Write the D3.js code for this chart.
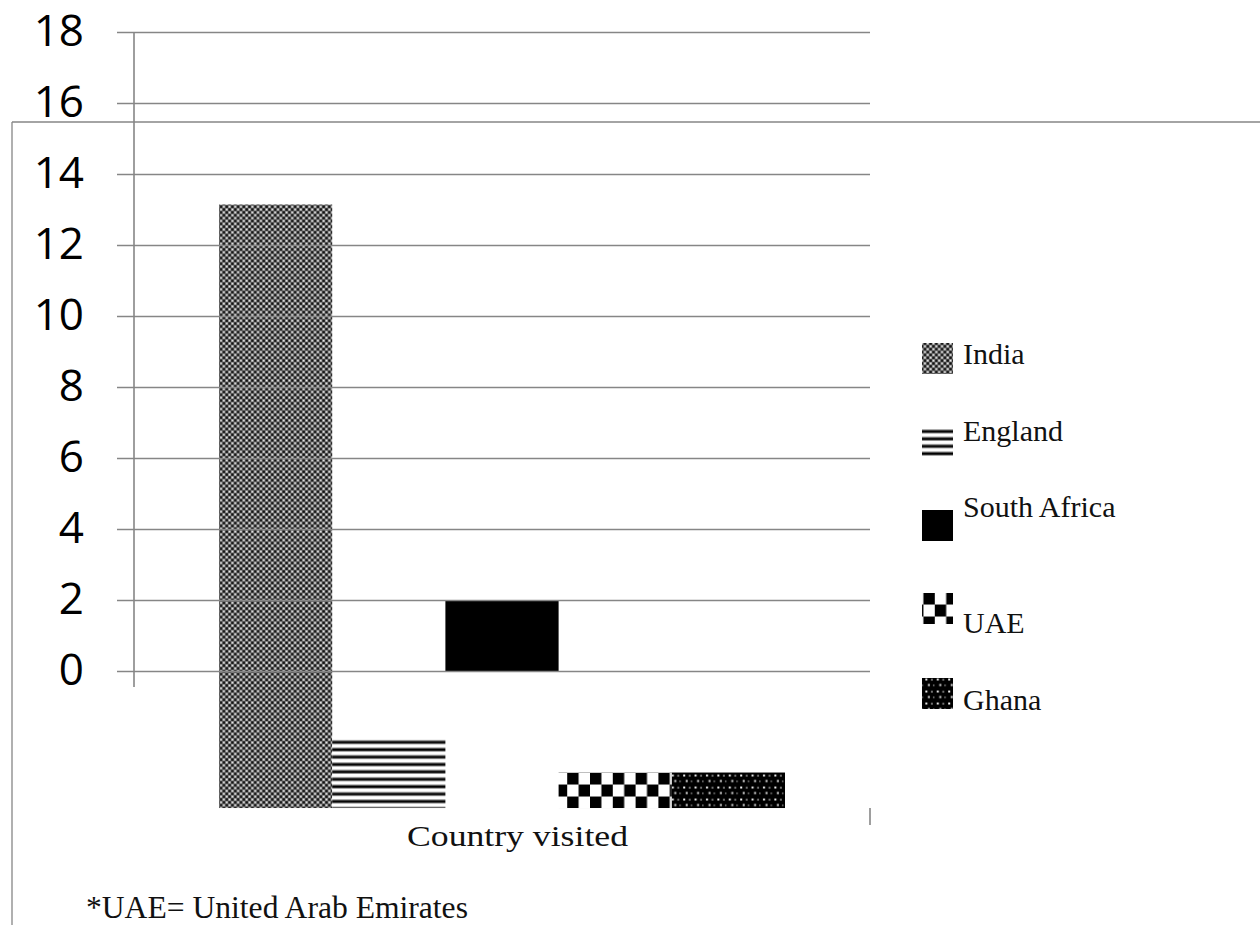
<!DOCTYPE html>
<html>
<head>
<meta charset="utf-8">
<script src="https://cdn.jsdelivr.net/npm/d3@7"></script>
<style>
  html, body { margin: 0; padding: 0; background: #fff; }
  svg { display: block; }
</style>
</head>
<body>
<svg id="chart" width="1260" height="925"></svg>
<script>
// ---- data ----
const category = ["Country visited"];
const series = ["India", "England", "South Africa", "UAE", "Ghana"];
const values = [17, 2, 2, 1, 1];
// apparent baseline (in axis units) each bar is drawn from in the picture
const barBase = [-3.86, -3.86, 0, -3.86, -3.86];
const yTicks = [0, 2, 4, 6, 8, 10, 12, 14, 16, 18];
const footnote = "*UAE= United Arab Emirates";

// ---- layout ----
const svg = d3.select("#chart");
const plotLeft = 134, plotRight = 870, plotTop = 32, plotBottom = 671;
const grey = "#868686";

const y = d3.scaleLinear().domain([0, 18]).range([plotBottom, plotTop]);
const x0 = d3.scaleBand().domain(category).range([plotLeft, plotRight]);
const x1 = d3.scaleBand().domain(series).range([85, x0.bandwidth() - 85]);

// ---- patterns ----
const defs = svg.append("defs");
function pat(id, w, h, build, oy) {
  const p = defs.append("pattern").attr("id", id)
    .attr("patternUnits", "userSpaceOnUse")
    .attr("width", w).attr("height", h)
    .attr("x", 0).attr("y", oy || 0);
  build(p);
  return p;
}
pat("p-india", 5.7, 5.7, p => {
  p.append("rect").attr("width", 5.7).attr("height", 5.7).attr("fill", "#7a7a7a");
  p.append("rect").attr("x", 0.3).attr("y", 0.3).attr("width", 2.4).attr("height", 2.4).attr("fill", "#0d0d0d");
  p.append("rect").attr("x", 3.15).attr("y", 3.15).attr("width", 2.4).attr("height", 2.4).attr("fill", "#0d0d0d");
  p.append("rect").attr("x", 3.5).attr("y", 0.7).attr("width", 1.7).attr("height", 1.7).attr("fill", "#f2f2f2");
  p.append("rect").attr("x", 0.7).attr("y", 3.5).attr("width", 1.7).attr("height", 1.7).attr("fill", "#f2f2f2");
});
pat("p-england", 8, 7.4, p => {
  p.append("rect").attr("width", 8).attr("height", 7.4).attr("fill", "#fff");
  p.append("rect").attr("y", 3.0).attr("width", 8).attr("height", 1).attr("fill", "#999");
  p.append("rect").attr("y", 4.0).attr("width", 8).attr("height", 2.4).attr("fill", "#000");
  p.append("rect").attr("y", 6.4).attr("width", 8).attr("height", 1).attr("fill", "#999");
}, y(2) + (y(barBase[1]) - y(0)));
pat("p-uae", 22.8, 24, p => {
  p.append("rect").attr("width", 22.8).attr("height", 24).attr("fill", "#fff");
  p.append("rect").attr("x", 0).attr("y", 0).attr("width", 11.4).attr("height", 12).attr("fill", "#000");
  p.append("rect").attr("x", 11.4).attr("y", 12).attr("width", 11.4).attr("height", 12).attr("fill", "#000");
}, y(1) + (y(barBase[3]) - y(0)));
pat("p-ghana", 11.4, 12, p => {
  p.append("rect").attr("width", 11.4).attr("height", 12).attr("fill", "#000");
  p.append("rect").attr("x", 2).attr("y", 2).attr("width", 2).attr("height", 2).attr("fill", "#eee");
  p.append("rect").attr("x", 7.5).attr("y", 2.5).attr("width", 2).attr("height", 1.5).attr("fill", "#999");
  p.append("rect").attr("x", 4.5).attr("y", 7.5).attr("width", 2).attr("height", 2).attr("fill", "#ddd");
  p.append("rect").attr("x", 9.5).attr("y", 8).attr("width", 1.5).attr("height", 1.5).attr("fill", "#888");
}, y(1) + (y(barBase[4]) - y(0)));
const fills = ["url(#p-india)", "url(#p-england)", "#000", "url(#p-uae)", "url(#p-ghana)"];

// ---- outer frame ----
svg.append("line").attr("x1", 12).attr("x2", 1260).attr("y1", 122).attr("y2", 122)
  .attr("stroke", grey).attr("stroke-width", 1.3);
svg.append("line").attr("x1", 12).attr("x2", 12).attr("y1", 122).attr("y2", 925)
  .attr("stroke", grey).attr("stroke-width", 1.3);

// ---- bars ----
const barData = series.map((s, i) => ({ s, v: values[i], b: barBase[i], f: fills[i] }));
const g = svg.append("g").attr("transform", `translate(${x0(category[0])},0)`);
g.selectAll("rect.bar").data(barData).join("rect")
  .attr("class", "bar")
  .attr("x", d => x1(d.s))
  .attr("width", x1.bandwidth())
  .attr("y", d => y(d.b + d.v))
  .attr("height", d => y(d.b) - y(d.b + d.v))
  .attr("fill", d => d.f);

// ---- grid + y axis ----
const yAxis = d3.axisLeft(y).tickValues(yTicks)
  .tickSize(-(plotRight - plotLeft)).tickPadding(0).tickFormat(d3.format("d"));
const ax = svg.append("g").attr("transform", `translate(${plotLeft},0)`).call(yAxis);
ax.select(".domain").remove();
ax.selectAll(".tick line").attr("stroke", grey).attr("stroke-width", 1.6)
  .attr("x1", -(plotLeft - 117));
ax.selectAll(".tick text")
  .attr("x", -50).attr("dy", null).attr("y", 13)
  .attr("text-anchor", "end")
  .attr("font-family", "'Open Sans', sans-serif")
  .attr("font-size", 44).attr("fill", "#000");

// vertical axis line (extends down like a category tick)
svg.append("line").attr("x1", plotLeft).attr("x2", plotLeft)
  .attr("y1", y(18)).attr("y2", y(0) + 16)
  .attr("stroke", grey).attr("stroke-width", 1.6);
// displaced right category tick
svg.append("line").attr("x1", plotRight).attr("x2", plotRight)
  .attr("y1", y(barBase[0])).attr("y2", y(barBase[0]) + 17)
  .attr("stroke", grey).attr("stroke-width", 1.6);

// ---- category label ----
svg.append("text")
  .attr("x", x0(category[0]) + x0.bandwidth() / 2 + 15.5)
  .attr("y", 846)
  .attr("text-anchor", "middle")
  .attr("font-family", "'Liberation Serif', serif")
  .attr("font-size", 30)
  .attr("textLength", 221).attr("lengthAdjust", "spacingAndGlyphs")
  .attr("fill", "#111")
  .text(category[0]);

// ---- legend ----
const legendSwatchY = [343, 427, 510, 593, 678];
const legendTextY = [364, 441, 517, 633, 710];
const lg = svg.append("g");
series.forEach((s, i) => {
  lg.append("rect").attr("x", 922).attr("y", legendSwatchY[i])
    .attr("width", 31).attr("height", 31).attr("fill", fills[i]);
  lg.append("text").attr("x", 963).attr("y", legendTextY[i])
    .attr("font-family", "'Liberation Serif', serif")
    .attr("font-size", 30).attr("fill", "#111").text(s);
});

// ---- footnote ----
svg.append("text").attr("x", 86).attr("y", 918)
  .attr("font-family", "'Liberation Serif', serif")
  .attr("font-size", 31.6).attr("fill", "#111")
  .text(footnote);
</script>
</body>
</html>
